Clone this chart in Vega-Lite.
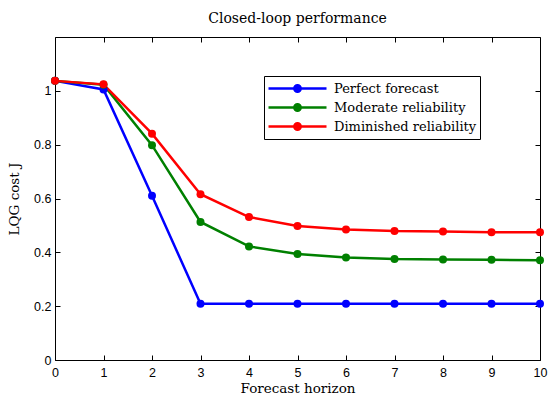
{
  "$schema": "https://vega.github.io/schema/vega-lite/v6.json",
  "width": 485,
  "height": 323,
  "autosize": {"type": "none"},
  "padding": {"left": 55, "top": 37, "right": 10, "bottom": 37},
  "background": "white",
  "title": {"text": "Closed-loop performance", "font": "DejaVu Serif", "fontSize": 14, "fontWeight": "normal", "color": "black", "offset": 11, "anchor": "middle"},
  "config": {
    "view": {"stroke": "black", "strokeWidth": 1},
    "axis": {"grid": false, "domain": false, "labelFlush": false, "tickColor": "black", "tickSize": -5, "labelFont": "Liberation Sans", "labelFontSize": 12.5, "labelColor": "black", "titleFont": "DejaVu Serif", "titleFontSize": 13.5, "titleFontWeight": "normal", "titleColor": "black"}
  },
  "data": {"values": [
    {"h": 0, "J": 1.037, "s": "Perfect forecast"},
    {"h": 1, "J": 1.005, "s": "Perfect forecast"},
    {"h": 2, "J": 0.61, "s": "Perfect forecast"},
    {"h": 3, "J": 0.209, "s": "Perfect forecast"},
    {"h": 4, "J": 0.209, "s": "Perfect forecast"},
    {"h": 5, "J": 0.209, "s": "Perfect forecast"},
    {"h": 6, "J": 0.209, "s": "Perfect forecast"},
    {"h": 7, "J": 0.209, "s": "Perfect forecast"},
    {"h": 8, "J": 0.209, "s": "Perfect forecast"},
    {"h": 9, "J": 0.209, "s": "Perfect forecast"},
    {"h": 10, "J": 0.209, "s": "Perfect forecast"},
    {"h": 0, "J": 1.037, "s": "Moderate reliability"},
    {"h": 1, "J": 1.023, "s": "Moderate reliability"},
    {"h": 2, "J": 0.798, "s": "Moderate reliability"},
    {"h": 3, "J": 0.513, "s": "Moderate reliability"},
    {"h": 4, "J": 0.422, "s": "Moderate reliability"},
    {"h": 5, "J": 0.394, "s": "Moderate reliability"},
    {"h": 6, "J": 0.381, "s": "Moderate reliability"},
    {"h": 7, "J": 0.375, "s": "Moderate reliability"},
    {"h": 8, "J": 0.373, "s": "Moderate reliability"},
    {"h": 9, "J": 0.372, "s": "Moderate reliability"},
    {"h": 10, "J": 0.371, "s": "Moderate reliability"},
    {"h": 0, "J": 1.037, "s": "Diminished reliability"},
    {"h": 1, "J": 1.024, "s": "Diminished reliability"},
    {"h": 2, "J": 0.841, "s": "Diminished reliability"},
    {"h": 3, "J": 0.616, "s": "Diminished reliability"},
    {"h": 4, "J": 0.531, "s": "Diminished reliability"},
    {"h": 5, "J": 0.498, "s": "Diminished reliability"},
    {"h": 6, "J": 0.485, "s": "Diminished reliability"},
    {"h": 7, "J": 0.479, "s": "Diminished reliability"},
    {"h": 8, "J": 0.477, "s": "Diminished reliability"},
    {"h": 9, "J": 0.475, "s": "Diminished reliability"},
    {"h": 10, "J": 0.475, "s": "Diminished reliability"}
  ]},
  "layer": [
    {
      "mark": {"type": "line", "strokeWidth": 2.5},
      "encoding": {
        "x": {"field": "h", "type": "quantitative", "scale": {"domain": [0, 10], "nice": false}, "axis": {"orient": "bottom", "title": "Forecast horizon", "values": [0,1,2,3,4,5,6,7,8,9,10], "labelPadding": 11, "titlePadding": 3}},
        "y": {"field": "J", "type": "quantitative", "scale": {"domain": [0, 1.2], "nice": false}, "axis": {"orient": "left", "title": "LQG cost J", "values": [0, 0.2, 0.4, 0.6, 0.8, 1], "format": "~g", "labelPadding": 9, "titlePadding": 12}},
        "color": {"field": "s", "type": "nominal", "scale": {"domain": ["Perfect forecast", "Moderate reliability", "Diminished reliability"], "range": ["#0000ff", "#008000", "#ff0000"]},
          "legend": {"orient": "none", "legendX": 209, "legendY": 39, "title": null, "symbolType": "M -1 0 L 1 0 M 0.11 0 A 0.11 0.11 0 1 1 -0.11 0 A 0.11 0.11 0 1 1 0.11 0", "symbolSize": 3364, "symbolStrokeWidth": 2.5, "clipHeight": 19, "labelFont": "DejaVu Serif", "labelFontSize": 13, "labelColor": "black", "labelOffset": 6, "labelLimit": 300, "strokeColor": "black", "fillColor": "white", "padding": 3, "rowPadding": 0,
            "encode": {"symbols": {"update": {"fill": {"scale": "color", "field": "value"}, "stroke": {"scale": "color", "field": "value"}, "opacity": {"value": 1}}}}}}
      }
    },
    {
      "mark": {"type": "point", "filled": true, "size": 64, "opacity": 1},
      "encoding": {
        "x": {"field": "h", "type": "quantitative", "axis": {"orient": "top", "labels": false, "title": null, "values": [0,1,2,3,4,5,6,7,8,9,10]}},
        "y": {"field": "J", "type": "quantitative", "axis": {"orient": "right", "labels": false, "title": null, "values": [0, 0.2, 0.4, 0.6, 0.8, 1]}},
        "color": {"field": "s", "type": "nominal"}
      }
    }
  ],
  "resolve": {"axis": {"x": "independent", "y": "independent"}}
}
